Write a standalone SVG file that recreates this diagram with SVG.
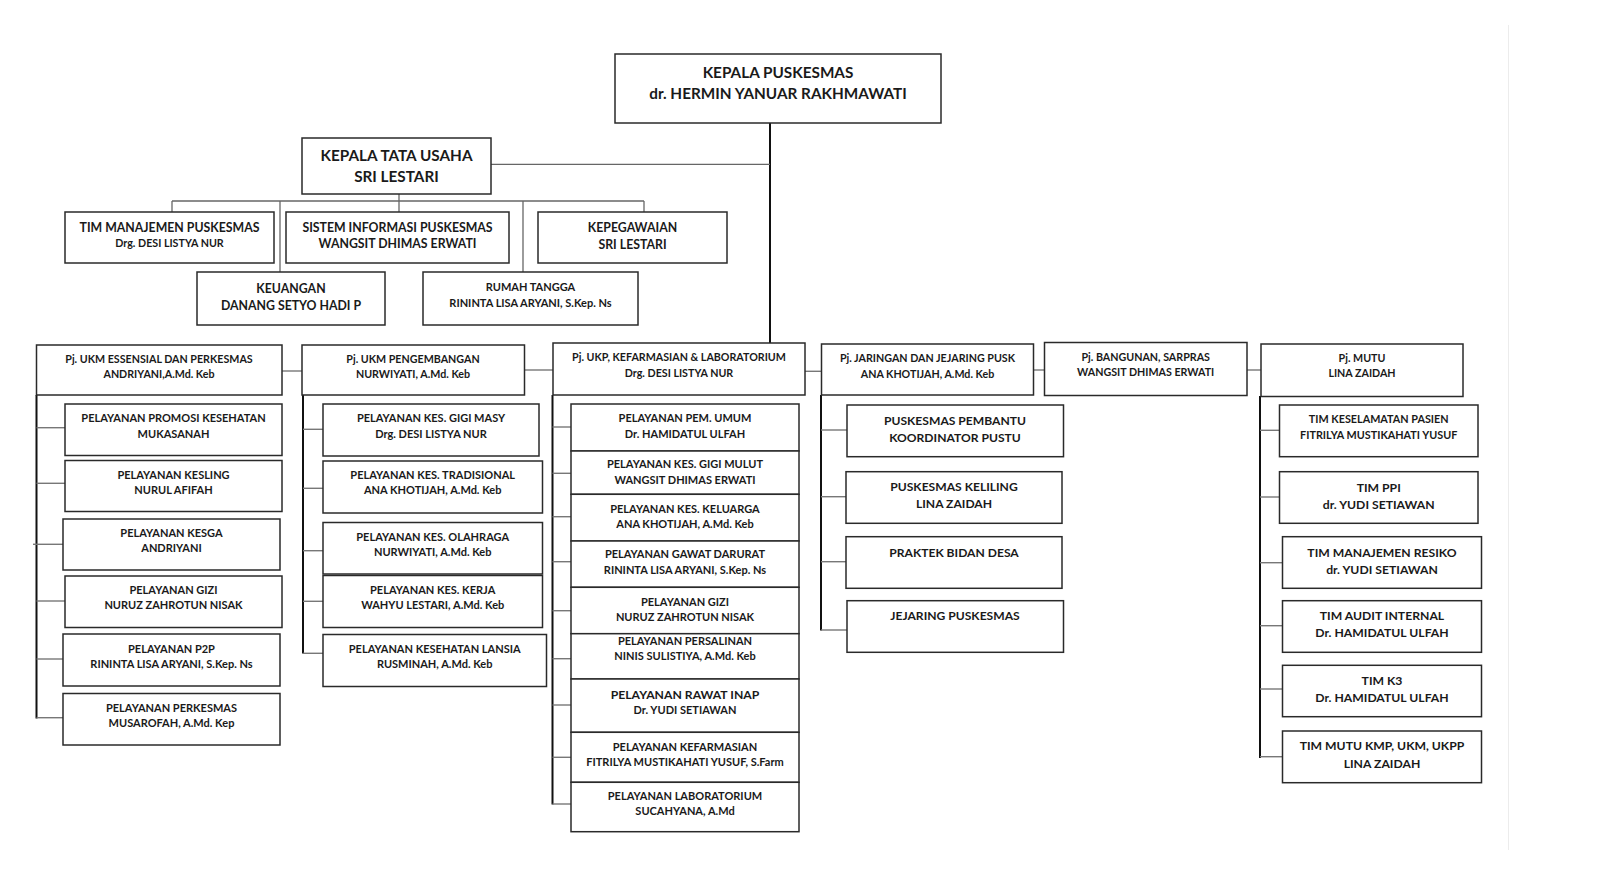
<svg xmlns="http://www.w3.org/2000/svg" width="1600" height="879" viewBox="0 0 1600 879">
<style>
rect.b{fill:#fff;stroke:#2a2a2a;stroke-width:1.5}
text{font-family:Lato,"Liberation Sans",sans-serif;text-anchor:middle;fill:#1a1a1a;font-weight:bold}
.f15{font-size:15.3px}.f16{font-size:15.3px}.f13{font-size:12.3px}.f12{font-size:11px}.f11{font-size:10.7px}.f11r{font-size:11px}.f115{font-size:10.7px}.f14{font-size:12.1px}.f14m{font-size:12.2px}.f13r{font-size:12.2px}.f108{font-size:10.8px}
.bus{stroke:#111;stroke-width:2;fill:none}
.stub{stroke:#777;stroke-width:1.4;fill:none}
.thin{stroke:#666;stroke-width:1.3;fill:none}
</style>
<rect width="1600" height="879" fill="#fff"/>
<line x1="1508.5" y1="25" x2="1508.5" y2="850" stroke="#ececec" stroke-width="1"/>
<g id="connectors">
<line class="bus" x1="770" y1="122" x2="770" y2="343"/>
<line class="thin" x1="491" y1="164.3" x2="770" y2="164.3"/>
<line class="thin" x1="399" y1="194" x2="399" y2="212"/>
<line class="thin" x1="172" y1="201" x2="644" y2="201"/>
<line class="thin" x1="172" y1="201" x2="172" y2="212"/>
<line class="thin" x1="280" y1="201" x2="280" y2="272"/>
<line class="thin" x1="523" y1="201" x2="523" y2="272"/>
<line class="thin" x1="644" y1="201" x2="644" y2="212"/>
<line class="stub" x1="278" y1="371" x2="302" y2="371"/>
<line class="stub" x1="523" y1="370" x2="553" y2="370"/>
<line class="stub" x1="802" y1="371.3" x2="821.5" y2="371.3"/>
<line class="stub" x1="1034" y1="370" x2="1044.5" y2="370"/>
<line class="stub" x1="1247" y1="370" x2="1261" y2="370"/>
<line class="bus" x1="36.5" y1="395" x2="36.5" y2="718.5"/>
<line class="stub" x1="36.5" y1="427.7" x2="65" y2="427.7"/>
<line class="stub" x1="36.5" y1="483.3" x2="65" y2="483.3"/>
<line class="stub" x1="33" y1="544.3" x2="63" y2="544.3"/>
<line class="stub" x1="36.5" y1="601" x2="65" y2="601"/>
<line class="stub" x1="36.5" y1="659" x2="63" y2="659"/>
<line class="stub" x1="36.5" y1="717.7" x2="63" y2="717.7"/>
<line class="bus" x1="303" y1="395" x2="303" y2="653.5"/>
<line class="stub" x1="303" y1="429.3" x2="323" y2="429.3"/>
<line class="stub" x1="303" y1="488.3" x2="323" y2="488.3"/>
<line class="stub" x1="303" y1="550.7" x2="323" y2="550.7"/>
<line class="stub" x1="303" y1="601.3" x2="323" y2="601.3"/>
<line class="stub" x1="303" y1="653.3" x2="323" y2="653.3"/>
<line class="bus" x1="552.5" y1="395" x2="552.5" y2="804.5"/>
<line class="stub" x1="552.5" y1="427" x2="571" y2="427"/>
<line class="stub" x1="552.5" y1="473.3" x2="571" y2="473.3"/>
<line class="stub" x1="552.5" y1="516.7" x2="571" y2="516.7"/>
<line class="stub" x1="552.5" y1="561.7" x2="571" y2="561.7"/>
<line class="stub" x1="552.5" y1="610.7" x2="571" y2="610.7"/>
<line class="stub" x1="552.5" y1="658.7" x2="571" y2="658.7"/>
<line class="stub" x1="552.5" y1="705" x2="571" y2="705"/>
<line class="stub" x1="552.5" y1="757.3" x2="571" y2="757.3"/>
<line class="stub" x1="552.5" y1="804" x2="571" y2="804"/>
<line class="bus" x1="821" y1="395" x2="821" y2="630.5"/>
<line class="stub" x1="821" y1="430" x2="847" y2="430"/>
<line class="stub" x1="821" y1="496.7" x2="846" y2="496.7"/>
<line class="stub" x1="821" y1="561.7" x2="846" y2="561.7"/>
<line class="stub" x1="821" y1="630" x2="847" y2="630"/>
<line class="bus" x1="1260" y1="396" x2="1260" y2="758"/>
<line class="stub" x1="1260" y1="430.3" x2="1279.5" y2="430.3"/>
<line class="stub" x1="1260" y1="497" x2="1279.5" y2="497"/>
<line class="stub" x1="1260" y1="562.7" x2="1282.5" y2="562.7"/>
<line class="stub" x1="1260" y1="625.7" x2="1282.5" y2="625.7"/>
<line class="stub" x1="1260" y1="689" x2="1282.5" y2="689"/>
<line class="stub" x1="1260" y1="756.7" x2="1282.5" y2="756.7"/>
</g>
<g id="kepala-puskesmas"><rect class="b" x="615" y="54" width="326" height="69"/><text class="f15" x="778" y="77.8">KEPALA PUSKESMAS</text><text class="f15" x="778" y="98.8">dr. HERMIN YANUAR RAKHMAWATI</text></g>
<g id="kepala-tu"><rect class="b" x="302" y="138" width="189" height="56"/><text class="f16" x="396.5" y="161.4">KEPALA TATA USAHA</text><text class="f16" x="396.5" y="182.4">SRI LESTARI</text></g>
<g id="tim-manajemen"><rect class="b" x="65" y="212" width="209" height="51"/><text class="f13" x="169.5" y="232.1">TIM MANAJEMEN PUSKESMAS</text><text class="f11" x="169.5" y="247.2">Drg. DESI LISTYA NUR</text></g>
<g id="sik"><rect class="b" x="286" y="212" width="223" height="51"/><text class="f13" x="397.5" y="232.1">SISTEM INFORMASI PUSKESMAS</text><text class="f13" x="397.5" y="247.7">WANGSIT DHIMAS ERWATI</text></g>
<g id="kepegawaian"><rect class="b" x="538" y="212" width="189" height="51"/><text class="f13" x="632.5" y="232.1">KEPEGAWAIAN</text><text class="f13" x="632.5" y="248.7">SRI LESTARI</text></g>
<g id="keuangan"><rect class="b" x="197" y="272" width="188" height="53"/><text class="f13" x="291" y="292.7">KEUANGAN</text><text class="f13" x="291" y="310.1">DANANG SETYO HADI P</text></g>
<g id="rumah-tangga"><rect class="b" x="423" y="272" width="215" height="53"/><text class="f11r" x="530.5" y="291">RUMAH TANGGA</text><text class="f11r" x="530.5" y="306.7">RININTA LISA ARYANI, S.Kep. Ns</text></g>
<g id="pj-ukm-essensial"><rect class="b" x="36.5" y="345" width="245.5" height="50"/><text class="f115" x="159" y="363.2">Pj. UKM ESSENSIAL DAN PERKESMAS</text><text class="f115" x="159" y="378.2">ANDRIYANI,A.Md. Keb</text></g>
<g id="pj-ukm-pengembangan"><rect class="b" x="302" y="345" width="222.5" height="50"/><text class="f115" x="413" y="363.2">Pj. UKM PENGEMBANGAN</text><text class="f115" x="413" y="378.2">NURWIYATI, A.Md. Keb</text></g>
<g id="pj-ukp"><rect class="b" x="553" y="343" width="252" height="52"/><text class="f115" x="679" y="361.2">Pj. UKP, KEFARMASIAN &amp; LABORATORIUM</text><text class="f115" x="679" y="376.6">Drg. DESI LISTYA NUR</text></g>
<g id="pj-jaringan"><rect class="b" x="821.5" y="344" width="212" height="51"/><text class="f115" x="927.5" y="362.2">Pj. JARINGAN DAN JEJARING PUSK</text><text class="f115" x="927.5" y="377.6">ANA KHOTIJAH, A.Md. Keb</text></g>
<g id="pj-bangunan"><rect class="b" x="1044.5" y="342.5" width="202.5" height="53"/><text class="f115" x="1145.7" y="360.6">Pj. BANGUNAN, SARPRAS</text><text class="f115" x="1145.7" y="376.2">WANGSIT DHIMAS ERWATI</text></g>
<g id="pj-mutu"><rect class="b" x="1261" y="344" width="202" height="52.5"/><text class="f115" x="1362" y="362.2">Pj. MUTU</text><text class="f115" x="1362" y="377.2">LINA ZAIDAH</text></g>
<g id="promkes"><rect class="b" x="65" y="404" width="217" height="51.5"/><text class="f12" x="173.5" y="422.3">PELAYANAN PROMOSI KESEHATAN</text><text class="f12" x="173.5" y="437.7">MUKASANAH</text></g>
<g id="kesling"><rect class="b" x="65" y="460.5" width="217" height="51"/><text class="f12" x="173.5" y="479">PELAYANAN KESLING</text><text class="f12" x="173.5" y="494">NURUL AFIFAH</text></g>
<g id="kesga"><rect class="b" x="63" y="519" width="217" height="51"/><text class="f12" x="171.5" y="537">PELAYANAN KESGA</text><text class="f12" x="171.5" y="552.3">ANDRIYANI</text></g>
<g id="gizi-ukm"><rect class="b" x="65" y="576" width="217" height="51.5"/><text class="f12" x="173.5" y="594">PELAYANAN GIZI</text><text class="f12" x="173.5" y="609.3">NURUZ ZAHROTUN NISAK</text></g>
<g id="p2p"><rect class="b" x="63" y="634" width="217" height="52"/><text class="f12" x="171.5" y="653">PELAYANAN P2P</text><text class="f12" x="171.5" y="668.3">RININTA LISA ARYANI, S.Kep. Ns</text></g>
<g id="perkesmas"><rect class="b" x="63" y="693.5" width="217" height="51.5"/><text class="f12" x="171.5" y="711.7">PELAYANAN PERKESMAS</text><text class="f12" x="171.5" y="726.7">MUSAROFAH, A.Md. Kep</text></g>
<g id="gigi-masy"><rect class="b" x="323" y="404" width="216" height="52"/><text class="f12" x="431" y="422.3">PELAYANAN KES. GIGI MASY</text><text class="f12" x="431" y="437.7">Drg. DESI LISTYA NUR</text></g>
<g id="tradisional"><rect class="b" x="323" y="461" width="219.5" height="52"/><text class="f12" x="432.7" y="479.3">PELAYANAN KES. TRADISIONAL</text><text class="f12" x="432.7" y="494.3">ANA KHOTIJAH, A.Md. Keb</text></g>
<g id="olahraga"><rect class="b" x="323" y="522.5" width="219.5" height="51.5"/><text class="f12" x="432.7" y="540.7">PELAYANAN KES. OLAHRAGA</text><text class="f12" x="432.7" y="556">NURWIYATI, A.Md. Keb</text></g>
<g id="kerja"><rect class="b" x="323" y="575.5" width="219.5" height="52"/><text class="f12" x="432.7" y="594">PELAYANAN KES. KERJA</text><text class="f12" x="432.7" y="609.3">WAHYU LESTARI, A.Md. Keb</text></g>
<g id="lansia"><rect class="b" x="323" y="634.5" width="223.5" height="52"/><text class="f12" x="434.7" y="653">PELAYANAN KESEHATAN LANSIA</text><text class="f12" x="434.7" y="668.3">RUSMINAH, A.Md. Keb</text></g>
<g id="pem-umum"><rect class="b" x="571" y="404" width="228" height="47"/><text class="f12" x="685" y="422.3">PELAYANAN PEM. UMUM</text><text class="f12" x="685" y="437.7">Dr. HAMIDATUL ULFAH</text></g>
<g id="gigi-mulut"><rect class="b" x="571" y="451" width="228" height="43.3"/><text class="f12" x="685" y="468.3">PELAYANAN KES. GIGI MULUT</text><text class="f12" x="685" y="483.7">WANGSIT DHIMAS ERWATI</text></g>
<g id="keluarga"><rect class="b" x="571" y="494.3" width="228" height="46.7"/><text class="f12" x="685" y="513">PELAYANAN KES. KELUARGA</text><text class="f12" x="685" y="528">ANA KHOTIJAH, A.Md. Keb</text></g>
<g id="gawat-darurat"><rect class="b" x="571" y="541" width="228" height="46.3"/><text class="f12" x="685" y="558.3">PELAYANAN GAWAT DARURAT</text><text class="f12" x="685" y="573.7">RININTA LISA ARYANI, S.Kep. Ns</text></g>
<g id="gizi-ukp"><rect class="b" x="571" y="587.3" width="228" height="46.4"/><text class="f12" x="685" y="605.7">PELAYANAN GIZI</text><text class="f12" x="685" y="621">NURUZ ZAHROTUN NISAK</text></g>
<g id="persalinan"><rect class="b" x="571" y="633.7" width="228" height="45.3"/><text class="f12" x="685" y="645">PELAYANAN PERSALINAN</text><text class="f12" x="685" y="660.3">NINIS SULISTIYA, A.Md. Keb</text></g>
<g id="rawat-inap"><rect class="b" x="571" y="679" width="228" height="53.3"/><text class="f13r" x="685" y="698.7">PELAYANAN RAWAT INAP</text><text class="f12" x="685" y="714.3">Dr. YUDI SETIAWAN</text></g>
<g id="kefarmasian"><rect class="b" x="571" y="732.3" width="228" height="50"/><text class="f12" x="685" y="750.7">PELAYANAN KEFARMASIAN</text><text class="f12" x="685" y="766">FITRILYA MUSTIKAHATI YUSUF, S.Farm</text></g>
<g id="laboratorium"><rect class="b" x="571" y="782.3" width="228" height="49.4"/><text class="f12" x="685" y="800">PELAYANAN LABORATORIUM</text><text class="f12" x="685" y="815">SUCAHYANA, A.Md</text></g>
<g id="pustu"><rect class="b" x="847" y="405" width="216.5" height="51.7"/><text class="f14" x="955" y="425">PUSKESMAS PEMBANTU</text><text class="f14" x="955" y="442">KOORDINATOR PUSTU</text></g>
<g id="pusling"><rect class="b" x="846" y="471.7" width="216" height="51.6"/><text class="f14" x="954" y="491.3">PUSKESMAS KELILING</text><text class="f14" x="954" y="508.3">LINA ZAIDAH</text></g>
<g id="bidan-desa"><rect class="b" x="846" y="536.7" width="216" height="51.6"/><text class="f14" x="954" y="556.6">PRAKTEK BIDAN DESA</text></g>
<g id="jejaring"><rect class="b" x="847" y="600.7" width="216.5" height="51.6"/><text class="f14" x="955" y="620">JEJARING PUSKESMAS</text></g>
<g id="tim-kp"><rect class="b" x="1279.5" y="405" width="198.5" height="51.7"/><text class="f108" x="1378.7" y="423.2">TIM KESELAMATAN PASIEN</text><text class="f108" x="1378.7" y="438.6">FITRILYA MUSTIKAHATI YUSUF</text></g>
<g id="tim-ppi"><rect class="b" x="1279.5" y="471.7" width="198.5" height="51.6"/><text class="f14m" x="1378.7" y="491.6">TIM PPI</text><text class="f14m" x="1378.7" y="508.6">dr. YUDI SETIAWAN</text></g>
<g id="tim-resiko"><rect class="b" x="1282.5" y="536.7" width="199" height="51.6"/><text class="f14m" x="1382" y="556.6">TIM MANAJEMEN RESIKO</text><text class="f14m" x="1382" y="574">dr. YUDI SETIAWAN</text></g>
<g id="tim-audit"><rect class="b" x="1282.5" y="600.7" width="199" height="51.6"/><text class="f14m" x="1382" y="620.3">TIM AUDIT INTERNAL</text><text class="f14m" x="1382" y="637.3">Dr. HAMIDATUL ULFAH</text></g>
<g id="tim-k3"><rect class="b" x="1282.5" y="665.3" width="199" height="51.4"/><text class="f14m" x="1382" y="684.6">TIM K3</text><text class="f14m" x="1382" y="702">Dr. HAMIDATUL ULFAH</text></g>
<g id="tim-mutu"><rect class="b" x="1282.5" y="731" width="199" height="51.7"/><text class="f14m" x="1382" y="750.3">TIM MUTU KMP, UKM, UKPP</text><text class="f14m" x="1382" y="767.6">LINA ZAIDAH</text></g>
</svg>
